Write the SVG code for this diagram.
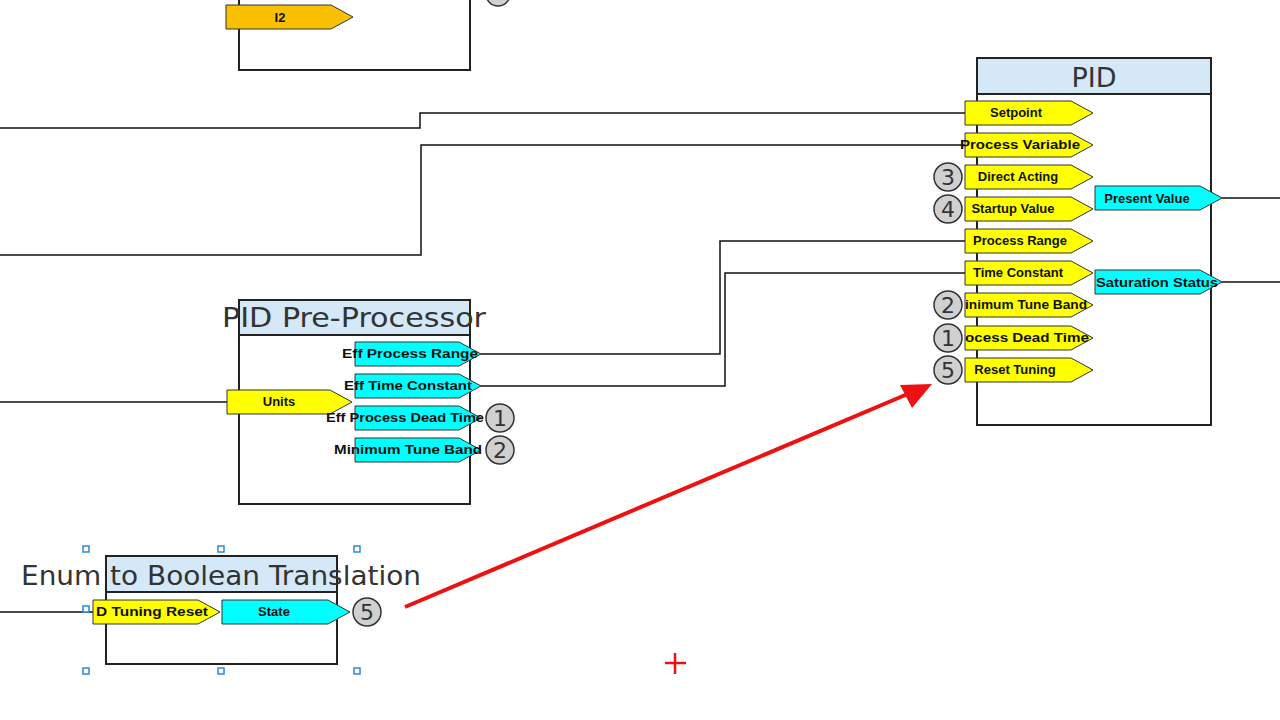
<svg xmlns="http://www.w3.org/2000/svg" width="1280" height="720" viewBox="0 0 1280 720">
<defs>
<style>
.box{fill:#fff;stroke:#222;stroke-width:2}
.ttl{fill:#d4e8f8;stroke:#222;stroke-width:2}
.yp{fill:#ffff00;stroke:#333;stroke-width:1}
.cp{fill:#00ffff;stroke:#333;stroke-width:1}
.op{fill:#f8c000;stroke:#333;stroke-width:1}
.pt{font-family:"Liberation Sans",Arial,sans-serif;font-size:13px;fill:#111;text-anchor:middle;font-weight:bold}
.bt{font-family:"DejaVu Sans",sans-serif;fill:#333;text-anchor:middle}
.cir{fill:#d0d0d0;stroke:#333;stroke-width:1.5}
.ct{font-family:"DejaVu Sans",sans-serif;font-size:22px;fill:#333;text-anchor:middle}
.wire{fill:none;stroke:#111;stroke-width:1.5}
.h{fill:#fff;stroke:#2a8ad8;stroke-width:1.5}
</style>
</defs>
<rect width="1280" height="720" fill="#fff"/>
<g id="connectors">
<polyline class="wire" points="0,128 420,128 420,113 965,113"/>
<polyline class="wire" points="0,255 421,255 421,145 965,145"/>
<polyline class="wire" points="481,354 720,354 720,241 965,241"/>
<polyline class="wire" points="481,386 725,386 725,273 965,273"/>
<line class="wire" x1="0" y1="402" x2="227" y2="402"/>
<line class="wire" x1="0" y1="612" x2="93" y2="612"/>
<line class="wire" x1="1222" y1="198" x2="1280" y2="198"/>
<line class="wire" x1="1222" y1="282" x2="1280" y2="282"/>
<line x1="405" y1="607" x2="910" y2="393" stroke="#ee1111" stroke-width="4"/>
<polygon points="932,384 900,385 912,408" fill="#ee1111"/>
</g>
<g id="top-block">
<rect class="box" x="239" y="-10" width="231" height="80"/>
<path class="op" d="M226,5 h105 l22,12 l-22,12 h-105 z"/>
<text class="pt" x="280" y="22" font-size="12">I2</text>
<circle class="cir" cx="498" cy="-6" r="12"/>
</g>
<g id="pid">
<rect class="box" x="977" y="58" width="234" height="367"/>
<rect class="ttl" x="977" y="58" width="234" height="36"/>
<text class="bt" x="1094" y="87" font-size="27">PID</text>
<path class="yp" d="M965,101 h106 l22,12 l-22,12 h-106 z"/><text class="pt" x="1016" y="117">Setpoint</text>
<path class="yp" d="M965,133 h106 l22,12 l-22,12 h-106 z"/><text class="pt" x="1020" y="149" textLength="120" lengthAdjust="spacingAndGlyphs">Process Variable</text>
<path class="yp" d="M965,165 h106 l22,12 l-22,12 h-106 z"/><text class="pt" x="1018" y="181">Direct Acting</text>
<path class="yp" d="M965,197 h106 l22,12 l-22,12 h-106 z"/><text class="pt" x="1013" y="213">Startup Value</text>
<path class="yp" d="M965,229 h106 l22,12 l-22,12 h-106 z"/><text class="pt" x="1020" y="245">Process Range</text>
<path class="yp" d="M965,261 h106 l22,12 l-22,12 h-106 z"/><text class="pt" x="1018" y="277">Time Constant</text>
<path class="yp" d="M965,293 h106 l22,12 l-22,12 h-106 z"/><text class="pt" x="1026" y="309" textLength="122" lengthAdjust="spacingAndGlyphs">inimum Tune Band</text>
<path class="yp" d="M965,326 h106 l22,12 l-22,12 h-106 z"/><text class="pt" x="1027" y="342" textLength="124" lengthAdjust="spacingAndGlyphs">ocess Dead Time</text>
<path class="yp" d="M965,358 h106 l22,12 l-22,12 h-106 z"/><text class="pt" x="1015" y="374">Reset Tuning</text>
<path class="cp" d="M1095,186 h105 l22,12 l-22,12 h-105 z"/><text class="pt" x="1147" y="203">Present Value</text>
<path class="cp" d="M1095,270 h105 l22,12 l-22,12 h-105 z"/><text class="pt" x="1157" y="287" textLength="122" lengthAdjust="spacingAndGlyphs">Saturation Status</text>
<circle class="cir" cx="948" cy="177" r="14"/><text class="ct" x="948" y="185">3</text>
<circle class="cir" cx="948" cy="209" r="14"/><text class="ct" x="948" y="217">4</text>
<circle class="cir" cx="948" cy="305" r="14"/><text class="ct" x="948" y="313">2</text>
<circle class="cir" cx="948" cy="338" r="14"/><text class="ct" x="948" y="346">1</text>
<circle class="cir" cx="948" cy="370" r="14"/><text class="ct" x="948" y="378">5</text>
</g>
<g id="pre-processor">
<rect class="box" x="239" y="300" width="231" height="204"/>
<rect class="ttl" x="239" y="300" width="231" height="35"/>
<text class="bt" x="354" y="327" font-size="27" textLength="264" lengthAdjust="spacingAndGlyphs">PID Pre-Processor</text>
<path class="yp" d="M227,390 h103 l22,12 l-22,12 h-103 z"/><text class="pt" x="279" y="406">Units</text>
<path class="cp" d="M355,342 h104 l22,12 l-22,12 h-104 z"/><text class="pt" x="410" y="358" textLength="136" lengthAdjust="spacingAndGlyphs">Eff Process Range</text>
<path class="cp" d="M355,374 h104 l22,12 l-22,12 h-104 z"/><text class="pt" x="408" y="390" textLength="128" lengthAdjust="spacingAndGlyphs">Eff Time Constant</text>
<path class="cp" d="M355,406 h104 l22,12 l-22,12 h-104 z"/><text class="pt" x="405" y="422" textLength="158" lengthAdjust="spacingAndGlyphs">Eff Process Dead Time</text>
<path class="cp" d="M355,438 h104 l22,12 l-22,12 h-104 z"/><text class="pt" x="408" y="454" textLength="148" lengthAdjust="spacingAndGlyphs">Minimum Tune Band</text>
<circle class="cir" cx="500" cy="418" r="14"/><text class="ct" x="500" y="426">1</text>
<circle class="cir" cx="500" cy="450" r="14"/><text class="ct" x="500" y="458">2</text>
</g>
<g id="enum-to-boolean">
<rect class="box" x="106" y="556" width="231" height="108"/>
<rect class="ttl" x="106" y="556" width="231" height="36"/>
<text class="bt" x="221" y="585" font-size="27" textLength="400" lengthAdjust="spacingAndGlyphs">Enum to Boolean Translation</text>
<path class="yp" d="M93,600 h105 l22,12 l-22,12 h-105 z"/><text class="pt" x="152" y="616" textLength="112" lengthAdjust="spacingAndGlyphs">D Tuning Reset</text>
<path class="cp" d="M222,600 h106 l22,12 l-22,12 h-106 z"/><text class="pt" x="274" y="616">State</text>
<circle class="cir" cx="367" cy="612" r="14"/><text class="ct" x="367" y="620">5</text>
<rect class="h" x="83" y="546" width="6" height="6"/>
<rect class="h" x="218" y="546" width="6" height="6"/>
<rect class="h" x="354" y="546" width="6" height="6"/>
<rect class="h" x="83" y="606" width="6" height="6"/>
<rect class="h" x="83" y="668" width="6" height="6"/>
<rect class="h" x="218" y="668" width="6" height="6"/>
<rect class="h" x="354" y="668" width="6" height="6"/>
</g>
<g id="cursor" stroke="#ee1111" stroke-width="2.5">
<line x1="665" y1="663" x2="686" y2="663"/>
<line x1="675" y1="653" x2="675" y2="674"/>
</g>
</svg>
